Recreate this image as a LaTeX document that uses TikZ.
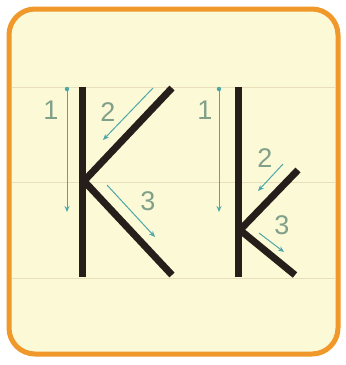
\documentclass[tikz,border=0pt]{standalone}
\usepackage{fontspec}
\setmainfont{Liberation Sans}
\usetikzlibrary{arrows.meta,positioning}
\definecolor{cardfill}{RGB}{252,249,214}
\definecolor{cardedge}{RGB}{240,152,42}
\definecolor{guide}{RGB}{232,222,186}
\definecolor{ink}{RGB}{38,30,26}
\definecolor{hint}{RGB}{78,168,168}
\definecolor{numc}{RGB}{128,160,138}
\tikzset{
  card/.style={draw=cardedge, line width=5pt, fill=cardfill, rounded corners=26pt},
  guideline/.style={draw=guide, line width=0.8pt},
  letter/.style={draw=ink, line width=7pt},
  hintarrow/.style={draw=hint, line width=1pt, -{Stealth[length=6pt,width=5pt]}},
  startdot/.style={circle, fill=hint, inner sep=0pt, minimum size=4.5pt},
  num/.style={font=\fontsize{27}{27}\selectfont, text=numc, inner sep=0pt}
}
\begin{document}
\begin{tikzpicture}[x=1pt,y=-1pt]
  \useasboundingbox (0,0) rectangle (346,365);
  \fill[white] (0,0) rectangle (346,365);
  \path[card] (9,9) rectangle (338,354);
  % guide lines
  \foreach \gy in {87,182,278}
    \draw[guideline] (12,\gy) -- (335,\gy);
  % capital K
  \coordinate (Ktop) at (82,87);
  \coordinate (Kbot) at (82,277);
  \coordinate (Kmid) at (84,181);
  \coordinate (Kup) at (172,88);
  \coordinate (Klow) at (172,275);
  \draw[letter] (Ktop) -- (Kbot);
  \draw[letter] (Kmid) -- (Kup);
  \draw[letter] (Kmid) -- (Klow);
  % small k
  \coordinate (ktop) at (238,87);
  \coordinate (kbot) at (238,277);
  \coordinate (kmid) at (240,230);
  \coordinate (kup) at (298,170);
  \coordinate (klow) at (295,275);
  \draw[letter] (ktop) -- (kbot);
  \draw[letter] (kmid) -- (kup);
  \draw[letter] (kmid) -- (klow);
  % stroke order hints, K
  \node[startdot] (Ka1) at (67,89) {};
  \coordinate (Kb1) at (67,212);
  \draw[hintarrow] (Ka1) -- (Kb1);
  \node[num] (Kn1) at (51,110) {1};
  \coordinate (Ka2) at (153,88);
  \coordinate (Kb2) at (103,140);
  \draw[hintarrow] (Ka2) -- (Kb2);
  \node[num] (Kn2) at (108,112) {2};
  \coordinate (Ka3) at (107,185);
  \coordinate (Kb3) at (155,237);
  \draw[hintarrow] (Ka3) -- (Kb3);
  \node[num] (Kn3) at (148,201) {3};
  % stroke order hints, k
  \node[startdot] (ka1) at (219,89) {};
  \coordinate (kb1) at (219,212);
  \draw[hintarrow] (ka1) -- (kb1);
  \node[num] (kn1) at (205,110) {1};
  \coordinate (ka2) at (283,164);
  \coordinate (kb2) at (258,191);
  \draw[hintarrow] (ka2) -- (kb2);
  \node[num] (kn2) at (265,158) {2};
  \coordinate (ka3) at (259,233);
  \coordinate (kb3) at (284,252);
  \draw[hintarrow] (ka3) -- (kb3);
  \node[num] (kn3) at (282,225) {3};
\end{tikzpicture}
\end{document}
